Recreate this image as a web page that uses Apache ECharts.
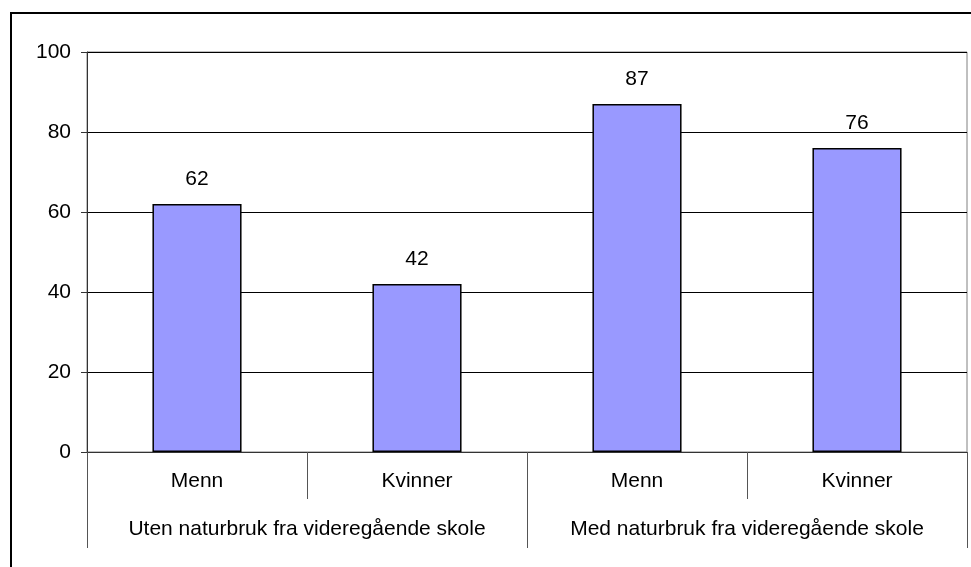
<html>
<head>
  <meta charset="utf-8" />
  <script src="https://cdn.jsdelivr.net/npm/echarts@6/dist/echarts.min.js"></script>
  <style>
    html, body { margin: 0; padding: 0; background: #fff; }
    #chart { width: 971px; height: 567px; }
  </style>
</head>
<body>
  <div id="chart"></div>
  <script>
    var genders = ['Menn', 'Kvinner', 'Menn', 'Kvinner'];
    var groups = ['Uten naturbruk fra videregående skole', 'Med naturbruk fra videregående skole'];
    var values = [62, 42, 87, 76];
    var yTicks = [0, 20, 40, 60, 80, 100];

    var font = 'Liberation Sans, Arial, sans-serif';
    var fs = 21;
    var chart = echarts.init(document.getElementById('chart'));

    chart.setOption({
      animation: false,
      textStyle: { fontFamily: font },
      graphic: [{
        type: 'rect',
        shape: { x: 11, y: 13, width: 1000, height: 600 },
        style: { fill: 'none', stroke: '#000', lineWidth: 2 },
        silent: true
      }],
      grid: {
        left: 87, right: 4, top: 52, bottom: 115,
        show: true, borderColor: '#808080', borderWidth: 1
      },
      xAxis: [{
        type: 'category',
        data: genders,
        axisLine: { lineStyle: { color: '#333', width: 1 } },
        axisTick: { show: true, interval: 0, length: 47, lineStyle: { color: '#555' } },
        axisLabel: { interval: 0, color: '#000', fontSize: fs, margin: 19, fontFamily: font }
      }, {
        type: 'category',
        position: 'bottom',
        data: groups,
        axisLine: { show: false },
        axisTick: { show: true, interval: 0, length: 96, lineStyle: { color: '#555' } },
        axisLabel: { interval: 0, color: '#000', fontSize: fs, margin: 67, fontFamily: font }
      }],
      yAxis: {
        type: 'value',
        min: yTicks[0],
        max: yTicks[yTicks.length - 1],
        interval: 20,
        axisLine: { show: true, lineStyle: { color: '#333' } },
        axisTick: { show: true, length: 6, lineStyle: { color: '#333' } },
        axisLabel: { color: '#000', fontSize: fs, margin: 16, fontFamily: font },
        splitLine: { lineStyle: { color: '#000', width: 1 } }
      },
      series: [{
        type: 'bar',
        xAxisIndex: 0,
        data: values,
        barWidth: '40.5%',
        itemStyle: { color: '#9999FF', borderColor: '#000', borderWidth: 1.5 },
        label: { show: true, position: 'top', distance: 14, color: '#000', fontSize: fs, fontFamily: font }
      }]
    });
  </script>
</body>
</html>
